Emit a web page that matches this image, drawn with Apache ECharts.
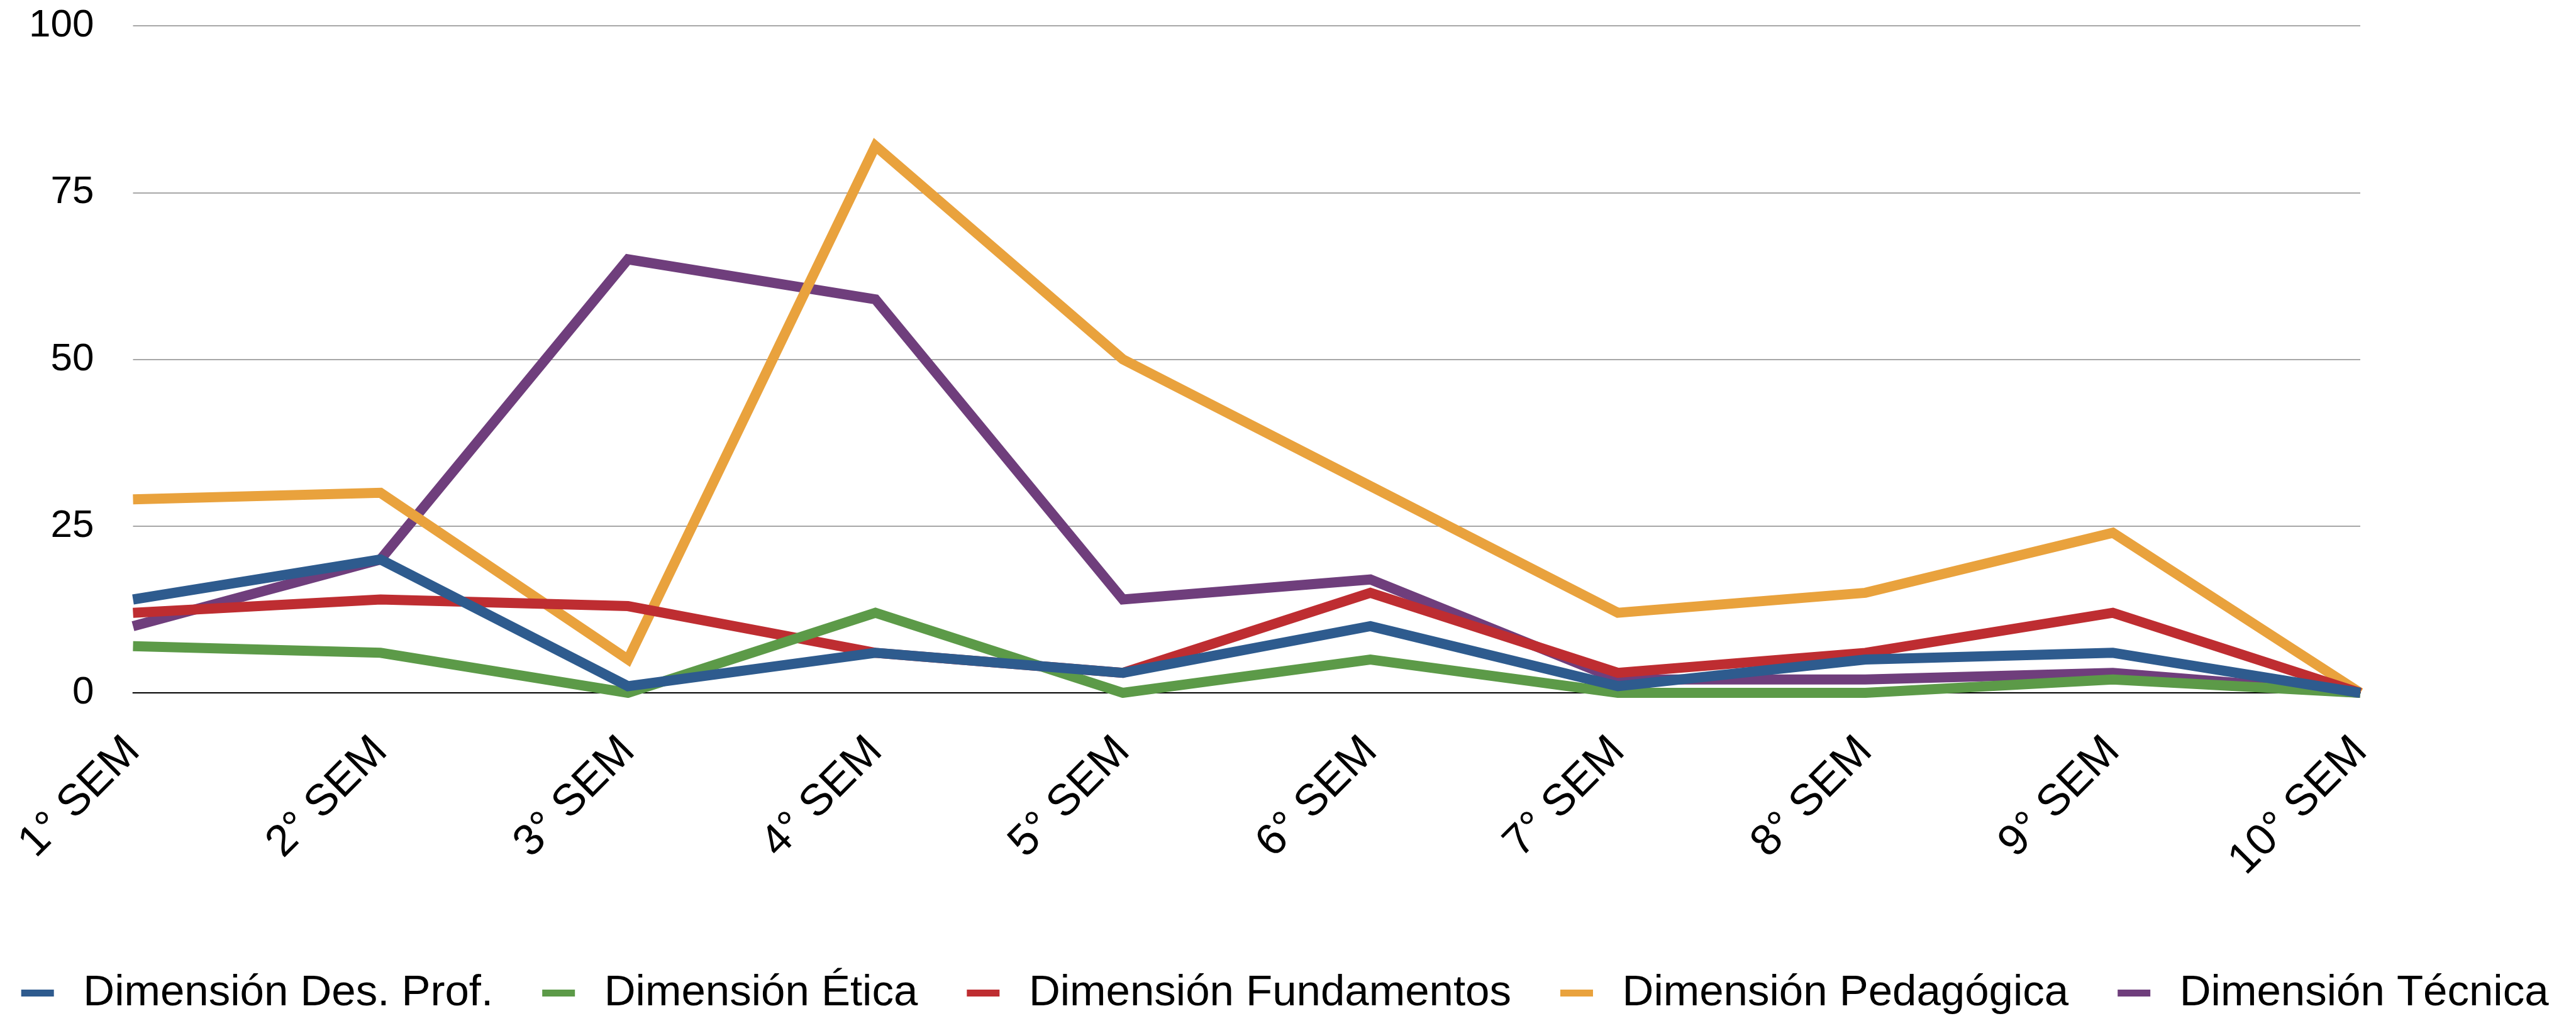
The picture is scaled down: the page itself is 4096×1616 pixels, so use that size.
<!DOCTYPE html>
<html>
<head>
<meta charset="utf-8">
<script src="https://cdn.jsdelivr.net/npm/echarts@6/dist/echarts.min.js"></script>
<style>
html,body{margin:0;padding:0;background:#fff;}
#chart{width:4096px;height:1616px;}
</style>
</head>
<body>
<div id="chart"></div>
<script>
const categories = ['1° SEM','2° SEM','3° SEM','4° SEM','5° SEM','6° SEM','7° SEM','8° SEM','9° SEM','10° SEM'];
const seriesNames = ['Dimensión Des. Prof.','Dimensión Ética','Dimensión Fundamentos','Dimensión Pedagógica','Dimensión Técnica'];
const desProf     = [14, 20, 1, 6, 3, 10, 1, 5, 6, 0];
const etica       = [7, 6, 0, 12, 0, 5, 0, 0, 2, 0];
const fundamentos = [12, 14, 13, 6, 3, 15, 3, 6, 12, 0];
const pedagogica  = [29, 30, 5, 82, 50, 31, 12, 15, 24, 0];
const tecnica     = [10, 20, 65, 59, 14, 17, 2, 2, 3, 0];
const yTicks = [0, 25, 50, 75, 100];

const colors = ['#2E5B8E','#5C9A48','#BE2D31','#E9A23D','#6F3E7C'];
const values = [desProf, etica, fundamentos, pedagogica, tecnica];
const zs = [7, 6, 5, 4, 3];
const FONT = '"Liberation Sans", Arial, Helvetica, sans-serif';

const chart = echarts.init(document.getElementById('chart'), null, {renderer: 'canvas'});
chart.setOption({
  animation: false,
  backgroundColor: '#ffffff',
  color: colors,
  grid: {left: 211.5, right: 343, top: 41.2, bottom: 514, containLabel: false},
  legend: {
    left: 28.7, top: 1540, width: 4060,
    icon: 'rect', itemWidth: 52, itemHeight: 11, itemGap: 78,
    textStyle: {fontFamily: FONT, fontSize: 69, color: '#000', lineHeight: 68, padding: [0, 0, 0, 41.6]},
    data: seriesNames
  },
  xAxis: {
    type: 'category', data: categories, boundaryGap: false,
    axisLine: {show: true, lineStyle: {color: '#000', width: 2}},
    axisTick: {show: false},
    axisLabel: {rotate: 45, interval: 0, margin: 82, fontFamily: FONT, fontSize: 70, color: '#000'},
    splitLine: {show: false}
  },
  yAxis: {
    type: 'value', min: yTicks[0], max: yTicks[yTicks.length - 1], interval: 25,
    axisLine: {show: false}, axisTick: {show: false},
    axisLabel: {margin: 62, fontFamily: FONT, fontSize: 62, color: '#000'},
    splitLine: {show: true, lineStyle: {color: '#8a8a8a', width: 1.5}}
  },
  series: seriesNames.map((n, i) => ({
    name: n, type: 'line', data: values[i], z: zs[i],
    symbol: 'none', showSymbol: false, smooth: false,
    lineStyle: {color: colors[i], width: 16, join: 'miter', miterLimit: 8},
    emphasis: {disabled: true},
    itemStyle: {color: colors[i]}
  }))
});
</script>
</body>
</html>
